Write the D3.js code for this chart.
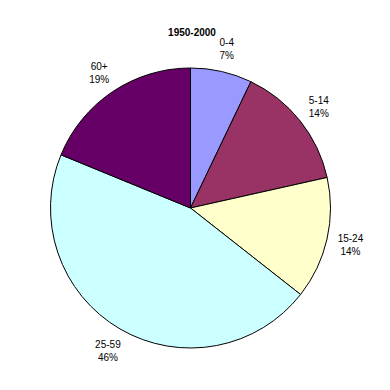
<!DOCTYPE html>
<html>
<head>
<meta charset="utf-8">
<script src="https://cdn.jsdelivr.net/npm/d3@7"></script>
<style>
  body { margin: 0; background: #fff; }
  text { font-family: "Liberation Sans", Arial, sans-serif; }
</style>
</head>
<body>
<div id="chart"></div>
<script>
const title = "1950-2000";
const groups = ["0-4", "5-14", "15-24", "25-59", "60+"];
const shares = [7.1, 14.4, 14.1, 45.6, 18.8];
const colors = ["#9999ff", "#993366", "#ffffcc", "#ccffff", "#660066"];

const width = 390, height = 390;
const cx = 190.5, cy = 208, radius = 140;
const labelRadius = 164;

const svg = d3.select("#chart")
  .append("svg")
    .attr("width", width)
    .attr("height", height);

svg.append("rect")
  .attr("width", width)
  .attr("height", height)
  .attr("fill", "#fff");

svg.append("text")
  .attr("x", 192)
  .attr("y", 36)
  .attr("text-anchor", "middle")
  .style("font-size", "10px")
  .style("font-weight", "bold")
  .text(title);

const data = groups.map((g, i) => ({ name: g, value: shares[i], color: colors[i] }));
const total = d3.sum(shares);
const pct = v => Math.round(v / total * 100) + "%";

const pie = d3.pie()
  .sort(null)
  .value(d => d.value);

const arcGen = d3.arc()
  .innerRadius(0)
  .outerRadius(radius);

const labelArc = d3.arc()
  .innerRadius(labelRadius)
  .outerRadius(labelRadius);

const g = svg.append("g")
  .attr("transform", `translate(${cx},${cy})`);

const arcs = pie(data);

g.selectAll("path")
  .data(arcs)
  .enter()
  .append("path")
    .attr("d", arcGen)
    .attr("fill", d => d.data.color)
    .attr("stroke", "#000")
    .attr("stroke-width", 1)
    .attr("stroke-linejoin", "round");

const lbl = g.selectAll("text.lbl")
  .data(arcs)
  .enter()
  .append("text")
    .attr("class", "lbl")
    .attr("text-anchor", "middle")
    .style("font-size", "10px")
    .attr("transform", d => `translate(${labelArc.centroid(d)})`);

lbl.append("tspan")
  .attr("x", 0)
  .attr("y", -2)
  .text(d => d.data.name);

lbl.append("tspan")
  .attr("x", 0)
  .attr("y", 11)
  .text(d => pct(d.data.value));
</script>
</body>
</html>
